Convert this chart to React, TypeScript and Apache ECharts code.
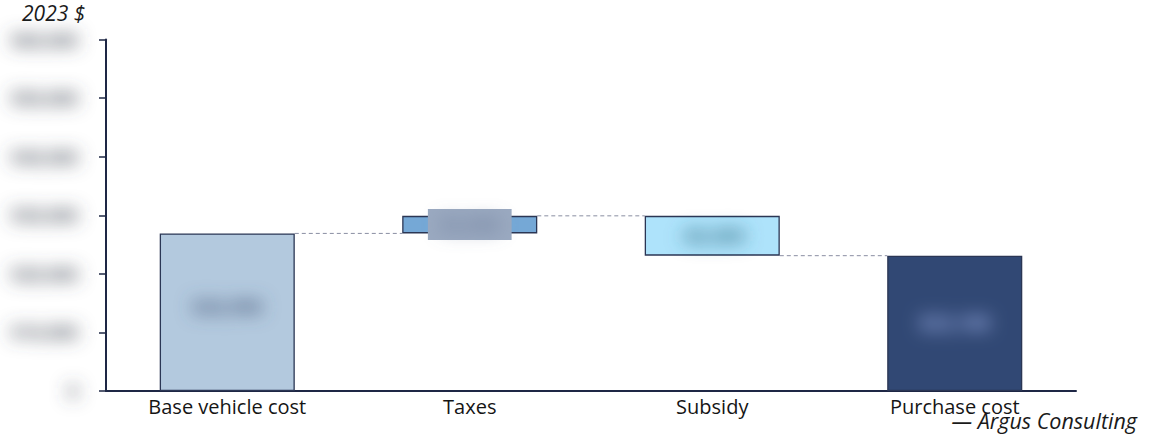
import React, { useEffect, useRef } from "react";
import * as echarts from "echarts";

// Waterfall steps: totals start from zero, deltas float on the running level.
const categories = ["Base vehicle cost", "Taxes", "Subsidy", "Purchase cost"];
const stepValues = [26900, 3000, -6800, 23100];
const isTotal = [true, false, false, true];
const barFills = ["#b3c9de", "#75a8d6", "#aee3fb", "#314874"];
const valueLabelColors = ["#4a5b7b", "#7383a0", "#336b80", "#a0b4ec"];

const yMin = 0;
const yMax = 60000;
const yInterval = 10000;

const unitLabel = "2023 $";
const sourceLabel = "— Argus Consulting";

const AXIS_COLOR = "#1e2745";
const TICK_LABEL_COLOR = "#4a505c";
const TAX_LABEL_BG = "#9aa9c0";
const BAR_RATIO = 0.557;

const money = (v: number) => {
  if (v === 0) return "0";
  const s = "$" + Math.abs(v).toLocaleString("en-US");
  return v < 0 ? "-" + s : s;
};

// Offsets (invisible stack base) and visible heights built from the steps.
const offsets: number[] = [];
const heights: number[] = [];
const levels: number[] = [];
let running = 0;
stepValues.forEach((v, i) => {
  if (isTotal[i]) {
    offsets.push(0);
    heights.push(v);
    running = v;
  } else {
    const next = running + v;
    offsets.push(Math.min(running, next));
    heights.push(Math.abs(v));
    running = next;
  }
  levels.push(running);
});

const connectorData = levels.slice(0, -1).map((lv, i) => [i, lv]);

const blurredFills = [TICK_LABEL_COLOR, ...valueLabelColors];

export default function App() {
  const ref = useRef<HTMLDivElement>(null);

  useEffect(() => {
    if (!ref.current) return;
    const chart = echarts.init(ref.current, undefined, { renderer: "svg" });
    const fontFamily = "'Open Sans', 'Noto Sans', sans-serif";

    chart.setOption({
      animation: false,
      textStyle: { fontFamily },
      grid: { left: 106, right: 87, top: 39.5, bottom: 44, containLabel: false },
      xAxis: {
        type: "category",
        data: categories,
        axisLine: { lineStyle: { color: AXIS_COLOR, width: 2 } },
        axisTick: { show: false },
        axisLabel: { color: "#151515", fontSize: 20, margin: 5, fontFamily },
      },
      yAxis: {
        type: "value",
        min: yMin,
        max: yMax,
        interval: yInterval,
        splitLine: { show: false },
        axisLine: { show: true, lineStyle: { color: AXIS_COLOR, width: 2 } },
        axisTick: { show: true, length: 7, lineStyle: { color: AXIS_COLOR, width: 1.5 } },
        axisLabel: {
          color: TICK_LABEL_COLOR,
          fontSize: 18,
          margin: 28,
          fontWeight: "bold",
          formatter: (v: number) => money(v),
        },
      },
      series: [
        {
          type: "bar",
          stack: "wf",
          barWidth: BAR_RATIO * 100 + "%",
          silent: true,
          itemStyle: { color: "transparent", borderWidth: 0 },
          data: offsets,
        },
        {
          type: "bar",
          stack: "wf",
          barWidth: BAR_RATIO * 100 + "%",
          data: heights.map((h, i) => ({
            value: h,
            itemStyle: {
              color: barFills[i],
              borderColor: "#2b3654",
              borderWidth: 1.3,
            },
            label: {
              show: true,
              position: "inside",
              offset: [0, i === 0 ? -5 : 0],
              color: valueLabelColors[i],
              fontSize: 19,
              fontWeight: "bold",
              formatter: () => money(stepValues[i]),
              ...(i === 1
                ? { backgroundColor: TAX_LABEL_BG, padding: [6, 12] }
                : {}),
            },
          })),
        },
        {
          type: "custom",
          silent: true,
          z: 1,
          data: connectorData,
          renderItem: (_params: any, api: any) => {
            const i = api.value(0);
            const lv = api.value(1);
            const a = api.coord([i, lv]);
            const b = api.coord([i + 1, lv]);
            const half = (api.size([1, 0])[0] * BAR_RATIO) / 2;
            return {
              type: "line",
              shape: { x1: a[0] + half, y1: a[1], x2: b[0] - half, y2: b[1] },
              style: { stroke: "#8a8ea2", lineWidth: 1, lineDash: [4, 3] },
            };
          },
        },
      ],
      graphic: [
        {
          type: "text",
          left: 22,
          top: 2,
          style: {
            text: unitLabel,
            fontSize: 21,
            fontStyle: "italic",
            fontFamily,
            fill: "#1a1a1a",
          },
        },
        {
          type: "text",
          right: 26,
          top: 409,
          style: {
            text: sourceLabel,
            fontSize: 21.5,
            fontStyle: "italic",
            fontFamily,
            fill: "#1a1a1a",
          },
        },
      ],
    });

    return () => chart.dispose();
  }, []);

  const blurCss =
    blurredFills.map((c) => `.wf-chart text[fill="${c}"]`).join(", ") +
    `, .wf-chart rect[fill="${TAX_LABEL_BG}"] { filter: url(#soft-label); }`;

  return (
    <>
      <style>{blurCss}</style>
      <svg width="0" height="0" style={{ position: "absolute" }}>
        <filter
          id="soft-label"
          filterUnits="userSpaceOnUse"
          x="-2000"
          y="-2000"
          width="6000"
          height="6000"
        >
          <feGaussianBlur stdDeviation="9" />
        </filter>
      </svg>
      <div
        ref={ref}
        className="wf-chart"
        style={{ position: "absolute", left: 0, top: 0, width: 1163, height: 435 }}
      />
    </>
  );
}
